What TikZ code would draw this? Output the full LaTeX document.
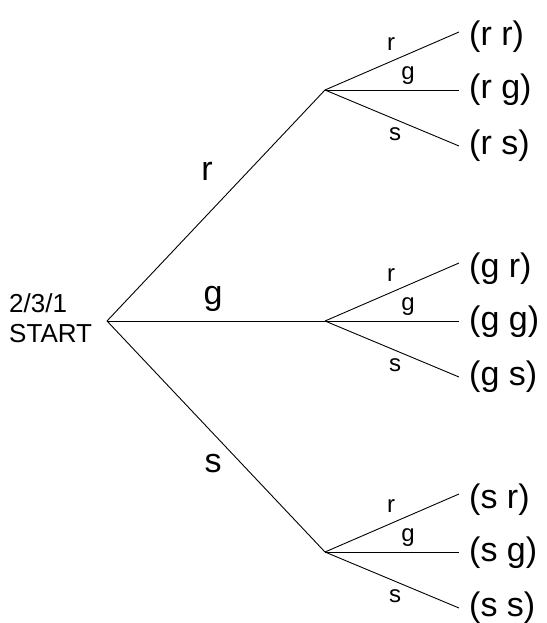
\documentclass[tikz,border=0pt]{standalone}
\usepackage{fontspec}
\setmainfont{Liberation Sans}
\begin{document}
\begin{tikzpicture}[x=1pt,y=1pt,
  edge/.style={draw=black,line width=0.9pt},
  leaf/.style={anchor=base west,inner sep=0pt,font=\fontsize{34}{36}\selectfont},
  biglab/.style={inner sep=0pt,font=\fontsize{34}{36}\selectfont},
  smalllab/.style={inner sep=0pt,font=\fontsize{24}{26}\selectfont},
  startlab/.style={anchor=base west,inner sep=0pt,font=\fontsize{26}{28}\selectfont}]
\useasboundingbox (0,0) rectangle (546,-623);
% root
\coordinate (root) at (107,-321);
\node[startlab] (start1) at (9,-312) {2/3/1};
\node[startlab] (start2) at (9,-342) {START};
% level 1
\coordinate (A) at (325,-90);
\coordinate (B) at (325,-321);
\coordinate (C) at (325,-552);
\draw[edge] (root) -- (A);
\draw[edge] (root) -- (B);
\draw[edge] (root) -- (C);
\node[biglab] (lr) at (207,-171) {r};
\node[biglab] (lg) at (213,-299) {g};
\node[biglab] (ls) at (213,-464) {s};
% leaves
\foreach \p/\y/\a in {A/-90/r,B/-321/g,C/-552/s}{
  \coordinate (\p1) at (459,\y+58);
  \coordinate (\p2) at (459,\y);
  \coordinate (\p3) at (459,\y-56);
  \draw[edge] (\p) -- (\p1);
  \draw[edge] (\p) -- (\p2);
  \draw[edge] (\p) -- (\p3);
  \node[smalllab] (\p r) at (391,\y+46) {r};
  \node[smalllab] (\p g) at (408,\y+14) {g};
  \node[smalllab] (\p s) at (395,\y-44) {s};
  \node[leaf] (\p L1) at (469,\y+58-14) {(\a\ r)};
  \node[leaf] (\p L2) at (469,\y-9) {(\a\ g)};
  \node[leaf] (\p L3) at (469,\y-56-8) {(\a\ s)};
}
\end{tikzpicture}
\end{document}
